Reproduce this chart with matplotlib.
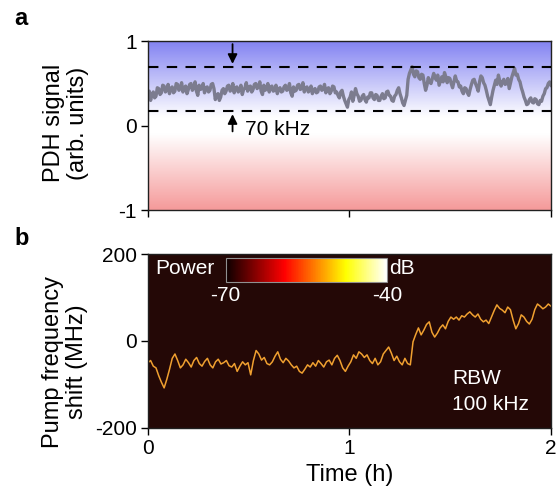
import numpy as np
import matplotlib
matplotlib.use("Agg")
import matplotlib.pyplot as plt
from matplotlib.colors import LinearSegmentedColormap, Normalize
from matplotlib.cm import ScalarMappable

plt.rcParams["font.family"] = ["Liberation Sans", "DejaVu Sans"]
plt.rcParams["axes.unicode_minus"] = False

# panel a: PDH error signal (arb. units), 0 -> 2 h
pdh = [0.36, 0.41, 0.30, 0.37, 0.40, 0.33, 0.35, 0.45, 0.44, 0.37, 0.39, 0.48, 0.47, 0.40, 0.42, 0.49, 0.38, 0.44, 0.46, 0.39,
       0.41, 0.50, 0.49, 0.42, 0.44, 0.51, 0.40, 0.45, 0.47, 0.38, 0.43, 0.49, 0.50, 0.42, 0.45, 0.52, 0.41, 0.36, 0.48, 0.43,
       0.44, 0.50, 0.39, 0.45, 0.46, 0.40, 0.42, 0.49, 0.50, 0.44,
       0.31, 0.36, 0.38, 0.30, 0.34, 0.42, 0.44, 0.38, 0.41, 0.47, 0.48, 0.41, 0.43, 0.50, 0.39, 0.45, 0.46, 0.40, 0.42, 0.48,
       0.37, 0.43, 0.45, 0.51, 0.41, 0.46, 0.47, 0.40, 0.43, 0.49, 0.50, 0.44, 0.46, 0.52, 0.41, 0.37, 0.48, 0.42, 0.44, 0.50,
       0.40, 0.46, 0.47, 0.41, 0.42, 0.48, 0.38, 0.44, 0.45, 0.40,
       0.41, 0.46, 0.48, 0.42, 0.43, 0.50, 0.39, 0.35, 0.46, 0.41, 0.42, 0.48, 0.49, 0.43, 0.44, 0.51, 0.40, 0.45, 0.46, 0.40,
       0.42, 0.47, 0.38, 0.43, 0.44, 0.39, 0.40, 0.46, 0.47, 0.42, 0.43, 0.49, 0.39, 0.44, 0.45, 0.38, 0.41, 0.47, 0.46, 0.39,
       0.40, 0.36, 0.33, 0.40, 0.42, 0.35, 0.30, 0.26, 0.22, 0.31,
       0.34, 0.40, 0.29, 0.36, 0.44, 0.38, 0.35, 0.29, 0.30, 0.35, 0.37, 0.31, 0.28, 0.34, 0.33, 0.39, 0.39, 0.33, 0.31, 0.37,
       0.36, 0.30, 0.30, 0.35, 0.38, 0.32, 0.33, 0.40, 0.41, 0.36, 0.35, 0.30, 0.29, 0.35, 0.37, 0.42, 0.45, 0.38, 0.33, 0.27,
       0.24, 0.30, 0.36, 0.55, 0.62, 0.66, 0.70, 0.61, 0.58, 0.65,
       0.64, 0.57, 0.55, 0.61, 0.60, 0.50, 0.42, 0.48, 0.57, 0.52, 0.50, 0.56, 0.62, 0.57, 0.54, 0.60, 0.48, 0.53, 0.58, 0.52,
       0.63, 0.58, 0.51, 0.57, 0.56, 0.50, 0.45, 0.52, 0.59, 0.53, 0.52, 0.46, 0.47, 0.41, 0.38, 0.45, 0.44, 0.39, 0.36, 0.43,
       0.49, 0.54, 0.55, 0.50, 0.46, 0.41, 0.52, 0.59, 0.57, 0.51,
       0.48, 0.42, 0.35, 0.30, 0.25, 0.34, 0.42, 0.48, 0.54, 0.49, 0.60, 0.53, 0.47, 0.52, 0.55, 0.49, 0.50, 0.56, 0.44, 0.51,
       0.58, 0.63, 0.68, 0.60, 0.61, 0.55, 0.52, 0.45, 0.40, 0.34, 0.30, 0.25, 0.26, 0.31, 0.33, 0.28, 0.27, 0.32, 0.31, 0.26,
       0.25, 0.30, 0.29, 0.35, 0.38, 0.44, 0.45, 0.50, 0.52, 0.48]
lock_window = [0.17, 0.70]

# panel b: pump frequency shift (MHz)
shift = [-50, -45, -58, -62, -80, -95, -108, -88, -65, -40, -30, -45, -62,
         -55, -42, -50, -60, -45, -38, -52, -58, -47, -40, -55, -62,
         -48, -42, -53, -50, -45, -57, -60, -52, -70, -58, -48, -55, -50,
         -78, -45, -22, -30, -44, -38, -52, -55,
         -48, -35, -25, -42, -50, -40, -46,
         -55, -62, -58, -70, -74, -65, -55, -60,
         -50, -58, -45, -52, -60, -48, -44, -55, -40, -33, -45, -62, -70, -58,
         -48, -32, -40, -25, -30, -38, -32, -45, -52, -40, -55, -48, -30, -22, -14, -28, -45, -35, -48, -55, -40, -52,
         -55, -2, 15, 30, 14, 25, 38, 44, 20, 9, 18, 30, 37, 28, 45, 55, 50, 55, 48, 58, 55, 62, 67, 60, 55, 62, 50, 44,
         48, 40, 55, 70, 83, 75, 71, 65, 78, 72, 48, 28, 40, 60, 55, 45, 39, 50, 72, 85, 80, 74, 78, 85, 80]

t_a = np.linspace(0, 2, len(pdh))
t_b = np.linspace(0, 2, len(shift))

fig = plt.figure(figsize=(5.56, 5.04), dpi=100)
ax1 = fig.add_axes([0.266, 0.583, 0.725, 0.335])
ax2 = fig.add_axes([0.266, 0.151, 0.725, 0.345])

# --- a ---
bg = LinearSegmentedColormap.from_list("bg", [(0.0, "#f59a9a"), (0.45, "#ffffff"), (0.55, "#ffffff"), (1.0, "#8383f2")])
grad = np.linspace(0, 1, 256).reshape(-1, 1)
ax1.imshow(grad, cmap=bg, origin="lower", aspect="auto", extent=[0, 2, -1, 1], zorder=0)
ax1.plot(t_a, pdh, color="#7c7c8f", lw=2.4, zorder=2)
for y in lock_window:
    ax1.axhline(y, color="black", lw=1.5, ls=(0, (5, 4)), zorder=3)
ax1.annotate("", xy=(0.42, lock_window[1]), xytext=(0.42, 1.0),
             arrowprops=dict(arrowstyle="-|>", color="black", lw=1.3, mutation_scale=14))
ax1.annotate("", xy=(0.42, lock_window[0]), xytext=(0.42, -0.1),
             arrowprops=dict(arrowstyle="-|>", color="black", lw=1.3, mutation_scale=14))
ax1.text(0.48, -0.05, "70 kHz", fontsize=15, va="center")
ax1.set_xlim(0, 2)
ax1.set_ylim(-1, 1)
ax1.set_yticks([-1, 0, 1])
ax1.set_xticks([0, 1, 2])
ax1.set_xticklabels([])

# --- b ---
ax2.set_facecolor("#240806")
ax2.plot(t_b, shift, color="#f0a030", lw=1.1)
ax2.set_xlim(0, 2)
ax2.set_ylim(-200, 200)
ax2.set_yticks([-200, 0, 200])
ax2.set_xticks([0, 1, 2])
ax2.set_xlabel("Time (h)", fontsize=17, labelpad=4)
ax2.text(1.51, -117, "RBW\n100 kHz", color="white", fontsize=15, va="center", linespacing=1.45)

for ax in (ax1, ax2):
    ax.tick_params(direction="out", length=5, width=1, labelsize=15, pad=3)
    for s in ax.spines.values():
        s.set_linewidth(1)
        s.set_color("#202020")

# colorbar inset
cax = fig.add_axes([0.406, 0.44, 0.29, 0.048])
cb = fig.colorbar(ScalarMappable(norm=Normalize(-70, -40), cmap="hot"), cax=cax,
                  orientation="horizontal", ticks=[-70, -40])
cb.outline.set_edgecolor("#909090")
cax.tick_params(length=0, labelsize=15, labelcolor="white", pad=3)
fig.text(155 / 556, 1 - 269 / 504, "Power", color="white", fontsize=15, va="center")
fig.text(389 / 556, 1 - 269 / 504, "dB", color="white", fontsize=15, va="center")

fig.text(66 / 556, 1 - 123 / 504, "PDH signal\n(arb. units)", rotation=90, fontsize=17,
         ha="center", va="center", multialignment="center", linespacing=1.15)
fig.text(65 / 556, 1 - 362 / 504, "Pump frequency\nshift (MHz)", rotation=90, fontsize=17,
         ha="center", va="center", multialignment="center", linespacing=1.15)
fig.text(14 / 556, 1 - 25 / 504, "a", fontsize=17, fontweight="bold")
fig.text(14 / 556, 1 - 245 / 504, "b", fontsize=17, fontweight="bold")

fig.savefig("out.png", dpi=100)
